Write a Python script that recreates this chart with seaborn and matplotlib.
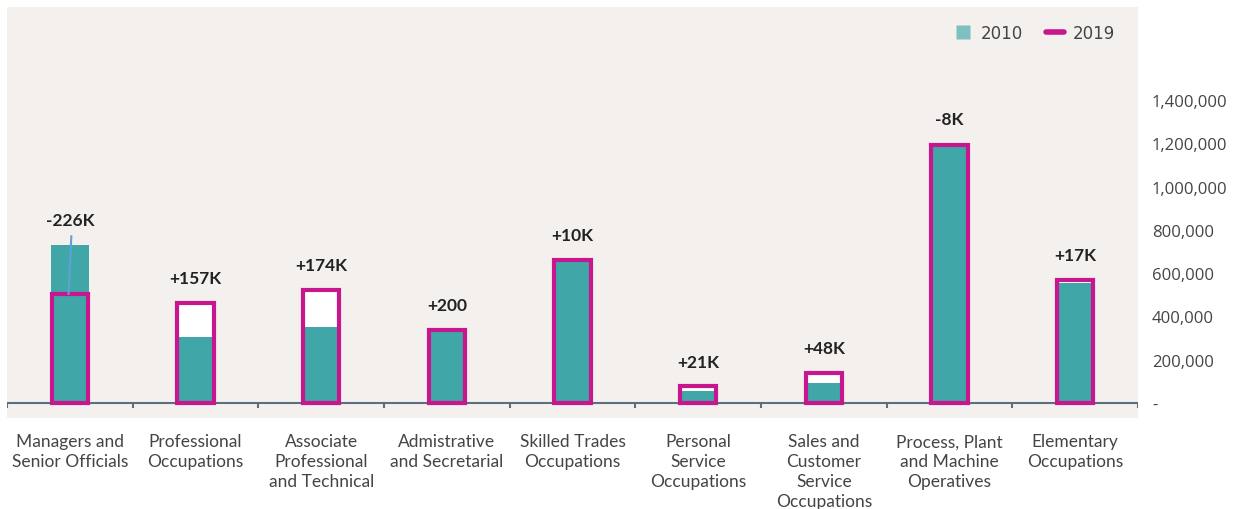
import numpy as np
import pandas as pd
import matplotlib.pyplot as plt
import seaborn as sns
from matplotlib.lines import Line2D

categories = ['Managers and\nSenior Officials', 'Professional\nOccupations',
              'Associate\nProfessional\nand Technical', 'Admistrative\nand Secretarial',
              'Skilled Trades\nOccupations', 'Personal\nService\nOccupations',
              'Sales and\nCustomer\nService\nOccupations', 'Process, Plant\nand Machine\nOperatives',
              'Elementary\nOccupations']
jobs_2010 = [730000, 305000, 350000, 338000, 652000, 55000, 90000, 1198000, 552000]
jobs_2019 = [504000, 462000, 524000, 338200, 662000, 76000, 138000, 1190000, 569000]
change_labels = ['-226K', '+157K', '+174K', '+200', '+10K', '+21K', '+48K', '-8K', '+17K']
ytick_values = [0, 200000, 400000, 600000, 800000, 1000000, 1200000, 1400000]
ytick_labels = ['-', '200,000', '400,000', '600,000', '800,000', '1,000,000', '1,200,000', '1,400,000']

teal = '#41a6a8'
magenta = '#c8168e'
bg = '#f4f0ed'
text_col = '#444444'

df = pd.DataFrame({'cat': categories, 'y2010': jobs_2010, 'y2019': jobs_2019})

fig = plt.figure(figsize=(12.51, 5.10), dpi=100)
ax = fig.add_axes([7 / 1251, (510 - 419) / 510, (1138 - 7) / 1251, (419 - 8) / 510])
ax.set_facecolor(bg)

# white fill behind 2019 bars, then 2010, then 2019 outline on top
sns.barplot(data=df, x='cat', y='y2019', color='white', width=0.29, linewidth=0,
            saturation=1, ax=ax, zorder=2)
sns.barplot(data=df, x='cat', y='y2010', color=teal, width=0.30, linewidth=0,
            saturation=1, ax=ax, zorder=3)
sns.barplot(data=df, x='cat', y='y2019', fill=False, width=0.29, edgecolor=magenta,
            linewidth=3, saturation=1, ax=ax, zorder=4)

ax.set_xlim(-0.5, len(categories) - 0.5)
ax.set_ylim(-70000, 1830000)

# baseline and category separators
ax.axhline(0, color='#5b6f80', lw=1.5, zorder=1)
ax.vlines(np.arange(len(categories) + 1) - 0.5, -22000, 0, color='#5b6f80', lw=1.5, zorder=1)

for i, lab in enumerate(change_labels):
    top = max(jobs_2010[i], jobs_2019[i])
    ax.annotate(lab, (i, top), xytext=(0, 12), textcoords='offset points',
                ha='center', va='bottom', fontsize=12.5, fontweight='bold',
                color='#222222', family='Lato')

# leader line on the first bar
ax.plot([0.012, -0.01], [jobs_2010[0] + 40000, jobs_2019[0]], color='#5ba3d6', lw=1.5, zorder=5)

for s in ax.spines.values():
    s.set_visible(False)

ax.set_xticks(range(len(categories)))
ax.set_xticklabels(categories, fontsize=12.5, color=text_col, family='Lato', linespacing=1.3)
ax.tick_params(axis='x', length=0, pad=11)

ax.yaxis.tick_right()
ax.set_yticks(ytick_values)
ax.set_yticklabels(ytick_labels, fontsize=12, color=text_col, family='Open Sans')
ax.tick_params(axis='y', length=0, pad=10)
ax.set_xlabel('')
ax.set_ylabel('')

handles = [Line2D([0], [0], marker='s', linestyle='none', markersize=10,
                  markerfacecolor='#80bfc0', markeredgecolor='none'),
           Line2D([0], [0], color=magenta, lw=4, solid_capstyle='round')]
leg = ax.legend(handles, ['2010', '2019'], loc='upper right', frameon=False, ncol=2,
                fontsize=12, handlelength=1.1, handletextpad=0.5, columnspacing=1.4,
                bbox_to_anchor=(0.993, 0.995))
for t in leg.get_texts():
    t.set_color(text_col)

fig.savefig('out.png', dpi=100)
